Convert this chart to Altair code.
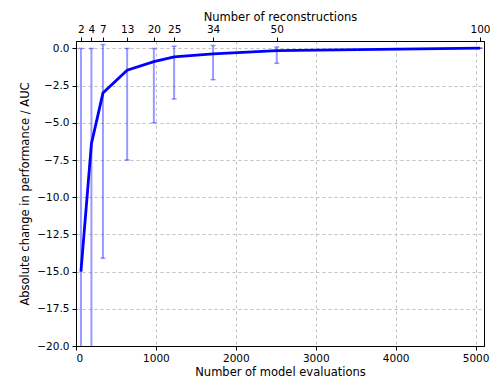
import altair as alt
import pandas as pd

reconstructions = [2, 4, 7, 13, 20, 25, 34, 50, 100]
evaluations = [62, 193, 337, 640, 974, 1228, 1715, 2512, 5055]
change_mean = [-15.0, -6.4, -3.0, -1.46, -0.89, -0.56, -0.36, -0.15, 0.02]
change_upper = [0.0, 0.0, 0.26, 0.0, 0.0, 0.15, 0.2, 0.1, 0.02]
change_lower = [-21.0, -21.0, -14.1, -7.5, -5.0, -3.4, -2.1, -1.0, 0.02]

df = pd.DataFrame({
    "recon": reconstructions,
    "evals": evaluations,
    "mean": change_mean,
    "upper": change_upper,
    "lower": change_lower,
})

FONT = "DejaVu Sans"
xscale = alt.Scale(domain=[0, 5105], nice=False, zero=False)
yscale = alt.Scale(domain=[-20, 0.5], nice=False, zero=False)

bottom_axis = alt.Axis(
    title="Number of model evaluations", orient="bottom",
    values=[0, 1000, 2000, 3000, 4000, 5000], format="d", labelOverlap=False,
    grid=True, gridDash=[3, 3], gridColor="#b0b0b0", gridWidth=0.8,
)
y_axis = alt.Axis(
    title="Absolute change in performance / AUC", labelOverlap=False,
    values=[-20, -17.5, -15, -12.5, -10, -7.5, -5, -2.5, 0], format=".1f",
    grid=True, gridDash=[3, 3], gridColor="#b0b0b0", gridWidth=0.8,
)

label_expr = "".join(
    f"datum.value == {e} ? '{r}' : " for e, r in zip(evaluations, reconstructions)
) + "''"
top_axis = alt.Axis(
    title="Number of reconstructions", orient="top",
    values=evaluations, labelExpr=label_expr, grid=False,
    labelOverlap=False,
)

base = alt.Chart(df)

errbars = base.mark_rule(color="blue", opacity=0.4, strokeWidth=2, clip=True).encode(
    x=alt.X("evals:Q", scale=xscale, axis=bottom_axis),
    y=alt.Y("lower:Q", scale=yscale, axis=y_axis),
    y2="upper:Q",
)
cap_hi = base.mark_tick(color="blue", opacity=0.4, orient="horizontal", size=5, thickness=1.5, clip=True).encode(
    x=alt.X("evals:Q", scale=xscale, axis=None), y=alt.Y("upper:Q", scale=yscale, axis=y_axis)
)
cap_lo = base.mark_tick(color="blue", opacity=0.4, orient="horizontal", size=5, thickness=1.5, clip=True).encode(
    x=alt.X("evals:Q", scale=xscale, axis=None), y=alt.Y("lower:Q", scale=yscale, axis=y_axis)
)
line = base.mark_line(color="#0000ff", strokeWidth=2.8, clip=True).encode(
    x=alt.X("evals:Q", scale=xscale, axis=None),
    y=alt.Y("mean:Q", scale=yscale, axis=y_axis),
)
top = base.mark_point(opacity=0).encode(
    x=alt.X("evals:Q", scale=xscale, axis=top_axis),
    y=alt.Y("mean:Q", scale=yscale, axis=y_axis),
)

chart = (
    alt.layer(errbars, cap_hi, cap_lo, line, top)
    .resolve_axis(x="independent")
    .properties(
        width=408, height=305,
        autosize=alt.AutoSizeParams(type="none"),
        padding={"left": 68, "top": 33, "right": 6, "bottom": 35},
    )
    .configure_view(stroke="black", strokeWidth=1)
    .configure_axis(
        labelFont=FONT, titleFont=FONT, labelFontSize=10.5, titleFontSize=11.5,
        titleFontWeight="normal", labelColor="black", titleColor="black",
        domainColor="black", tickColor="black", tickSize=4, labelPadding=3,
    )
    .configure_axisBottom(titlePadding=3)
    .configure_axisTop(titlePadding=2)
    .configure_axisLeft(titlePadding=6)
)

chart.save("out.html", embed_options={"renderer": "svg", "actions": False})
